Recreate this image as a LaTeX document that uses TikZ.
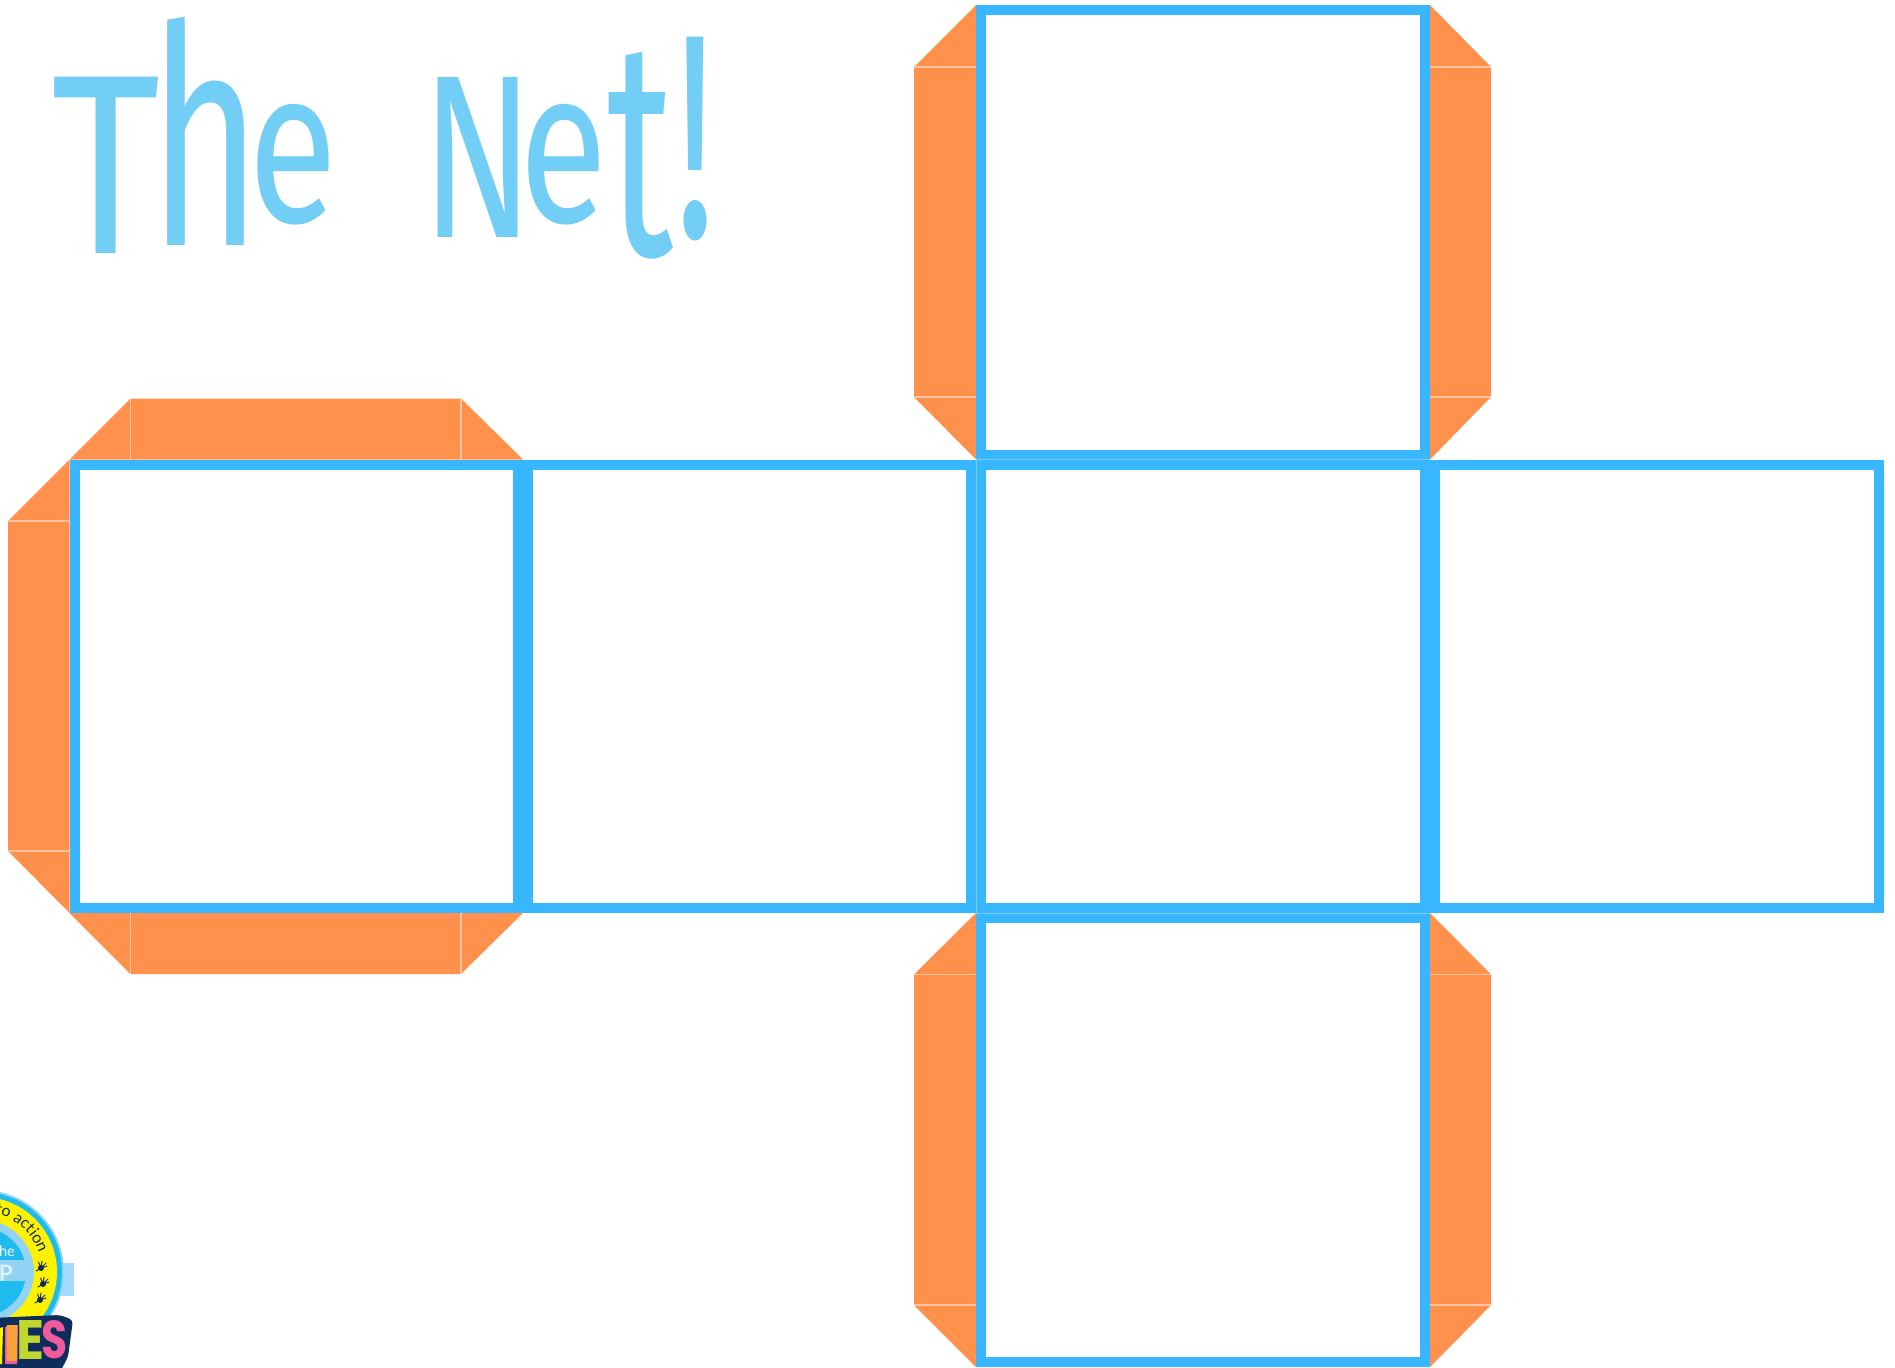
\documentclass[tikz,border=0pt]{standalone}
\usepackage{fontspec}
\setmainfont{Fira Sans}
\newfontfamily\logofont{Lato}
\newfontfamily\bannerfont{Poppins}
\usetikzlibrary{decorations.text}
\definecolor{flapc}{HTML}{FF914D}
\definecolor{foldc}{HTML}{FFC4A0}
\definecolor{framec}{HTML}{38B6FF}
\definecolor{framel}{HTML}{7CCDFB}
\definecolor{titlec}{HTML}{73CEF6}
\definecolor{navyc}{HTML}{0F2D5C}
\definecolor{palec}{HTML}{92D3F3}
\definecolor{cyanc}{HTML}{1EBBEE}
\definecolor{yellowc}{HTML}{FFF200}
\definecolor{orangec}{HTML}{F9A13A}
\definecolor{limec}{HTML}{BFD730}
\definecolor{pinkc}{HTML}{EF5B9C}
\newdimen\pxu \pxu=.75pt
% x, raise, width, height, letter
\newcommand\gl[5]{\makebox[0pt][l]{\kern#1\pxu\raisebox{#2\pxu}{\resizebox{#3\pxu}{#4\pxu}{#5}}}}
\tikzset{
  flap/.style={fill=flapc},
  fold/.style={draw=foldc,line width=.8pt},
  frame/.style={draw=framec,line width=7.5pt,miter limit=10},
  seam/.style={draw=framel,line width=.7pt},
  hand/.style={draw=navyc,line width=.7pt,line cap=round},
}
\begin{document}
\begin{tikzpicture}[x=.75pt,y=-.75pt]
\useasboundingbox (0,0) rectangle (1895,1367);
\clip (0,0) rectangle (1895,1367);
\fill[white] (0,0) rectangle (1895,1367);

% Flaps of the left square
\fill[flap] (69.5,459.5) -- (130.5,398.5) -- (461,398.5) -- (523,459.5) -- cycle;
\fill[flap] (69.5,913) -- (130.5,974) -- (461,974) -- (523,913) -- cycle;
\fill[flap] (69.5,459.5) -- (8,521) -- (8,851) -- (69.5,913) -- cycle;
\draw[fold] (130.5,398.5) -- (130.5,459.5);
\draw[fold] (461,398.5) -- (461,459.5);
\draw[fold] (130.5,913) -- (130.5,974);
\draw[fold] (461,913) -- (461,974);
\draw[fold] (8,521) -- (69.5,521);
\draw[fold] (8,851) -- (69.5,851);

% Flaps of the top square
\fill[flap] (976,5) -- (914,67) -- (914,397) -- (976,459.5) -- cycle;
\fill[flap] (1430,5) -- (1491,67) -- (1491,397) -- (1430,459.5) -- cycle;
\draw[fold] (914,67) -- (976,67);
\draw[fold] (914,397) -- (976,397);
\draw[fold] (1430,67) -- (1491,67);
\draw[fold] (1430,397) -- (1491,397);

% Flaps of the bottom square
\fill[flap] (976,913) -- (914,974.5) -- (914,1305) -- (976,1367) -- cycle;
\fill[flap] (1430,913) -- (1491,974.5) -- (1491,1305) -- (1430,1367) -- cycle;
\draw[fold] (914,974.5) -- (976,974.5);
\draw[fold] (914,1305) -- (976,1305);
\draw[fold] (1430,974.5) -- (1491,974.5);
\draw[fold] (1430,1305) -- (1491,1305);

% Square frames
\draw[frame] (74.5,464.5) rectangle (518,908);
\draw[frame] (528,464.5) rectangle (971,908);
\draw[frame] (981,464.5) rectangle (1425,908);
\draw[frame] (1435,464.5) rectangle (1879,908);
\draw[frame] (981,10) rectangle (1425,454.5);
\draw[frame] (981,918) rectangle (1425,1362);
\draw[seam] (976.5,459.5) -- (976.5,913);
\draw[seam] (976,913.5) -- (1430,913.5);
\draw[seam] (976,459.5) -- (1430,459.5);

% Title
\node[anchor=base west,inner sep=0pt,text=titlec] (title) at (0,300) {%
  \gl{51}{47}{109}{176}{T}\gl{149}{55}{112}{228}{h}\gl{248}{78}{89}{118}{e}%
  \makebox[0pt]{ }%
  \gl{421}{63}{113}{160}{N}\gl{519}{78}{88}{118}{e}\gl{607}{45}{66}{203}{t}\gl{675}{63}{40}{200}{!}};

% Logo, cropped by the page
\fill[framel!70!white] (60,1263) rectangle (74,1296);
\fill[palec] (-18,1272) circle[radius=82*.75pt];
\fill[cyanc] (-18,1272) circle[radius=80*.75pt];
\fill[yellowc] (-18,1272) circle[radius=75*.75pt];
\fill[palec] (-18,1272) circle[radius=52*.75pt];
\begin{scope}
  \clip (-18,1272) circle[radius=44*.75pt];
  \fill[cyanc] (-20,1225) rectangle (30,1260);
  \fill[cyanc] (-20,1281) rectangle (30,1325);
\end{scope}
\node[inner sep=0pt,text=white,font=\logofont\fontsize{11}{11}\selectfont] (logohe) at (7,1251) {he};
\node[inner sep=0pt,text=white!70!palec,font=\logofont\bfseries\fontsize{17}{17}\selectfont] (logop) at (6,1273) {P};
\path[decorate,decoration={text along path,text align=center,
    text={|\logofont\fontsize{12}{12}\selectfont\color{navyc}|to action}}]
  (-5.5,1213.3) .. controls (15.4,1217.8) and (32.5,1233.1) .. (39.1,1253.5);
\foreach \hx/\hy in {41/1268,43/1284,40/1300}{
  \fill[navyc] (\hx,\hy) circle[radius=3*.75pt];
  \draw[hand] (\hx,\hy) -- ++(5,-5) (\hx,\hy) -- ++(1,-7) (\hx,\hy) -- ++(-2.5,-6) (\hx,\hy) -- ++(6,-2) (\hx,\hy) -- ++(-5,3);
}
% Banner
\fill[navyc,rounded corners=3pt] (-10,1318) -- (60,1315) -- (73,1320) -- (68,1357) -- (60,1372) -- (-10,1372) -- cycle;
\fill[yellowc] (0,1328) -- (3,1327) -- (2,1364) -- (0,1364) -- cycle;
\fill[pinkc] (5,1327) -- (18,1325) -- (17,1364) -- (5,1364) -- cycle;
\node[anchor=base west,inner sep=0pt,font=\bannerfont\bfseries] (logoword) at (0,1380) {%
  \gl{3}{19}{18}{36}{\color{orangec}I}\gl{16}{21}{28}{39}{\color{limec}E}\gl{41}{22}{26}{38}{\color{pinkc}S}};
\end{tikzpicture}
\end{document}
